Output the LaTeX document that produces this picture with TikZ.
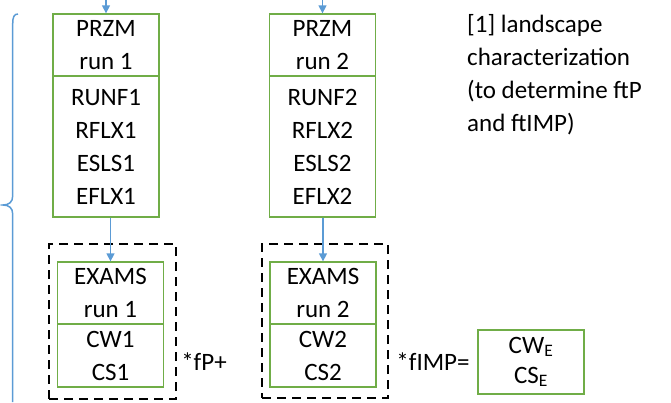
\documentclass[tikz,border=0pt]{standalone}
\usepackage{fontspec}
\setmainfont{Carlito}
\usetikzlibrary{arrows.meta}
\definecolor{boxgreen}{RGB}{112,173,71}
\definecolor{linkblue}{RGB}{91,155,213}

\begin{document}
\begin{tikzpicture}[x=1pt,y=-1pt,
                    every node/.style={font=\fontsize{25}{33}\selectfont, inner sep=0pt, align=center},
                    part/.style={draw=boxgreen, line width=1.3pt, minimum width=106pt},
                    wrap/.style={draw=black, line width=2.8pt, dash pattern=on 9pt off 6pt},
                    link/.style={draw=linkblue, line width=1.3pt, -{Triangle[length=8pt,width=8pt]}},
                    brace/.style={draw=linkblue, line width=1.5pt}]
                    \useasboundingbox (0,0) rectangle (671,402);
                    % dashed frames round the EXAMS runs
                    \node[wrap, minimum width=127pt, minimum height=155pt] (w1) at (112.5,321.5) {};
                    \node[wrap, minimum width=126pt, minimum height=154pt] (w2) at (325,321) {};
                    % PRZM runs
                    \node[part, minimum height=62pt] (p1) at (106,45) {PRZM\\run 1};
                    \node[part, minimum height=141pt] (o1) at (106,146.5) {RUNF1\\RFLX1\\ESLS1\\EFLX1};
                    \node[part, minimum height=62pt] (p2) at (322.5,45) {PRZM\\run 2};
                    \node[part, minimum height=141pt] (o2) at (322.5,146.5) {RUNF2\\RFLX2\\ESLS2\\EFLX2};
                    % EXAMS runs
                    \node[part, minimum height=62pt] (e1) at (110.5,293) {EXAMS\\run 1};
                    \node[part, minimum height=63pt] (c1) at (110.5,355.5) {CW1\\CS1};
                    \node[part, minimum height=62pt] (e2) at (323,293) {EXAMS\\run 2};
                    \node[part, minimum height=63pt] (c2) at (323,355.5) {CW2\\CS2};
                    % combination
                    \node (fp) at (204,362) {*fP+};
                    \node (fimp) at (433,362) {*fIMP=};
                    \node[part, minimum height=64pt, font=\fontsize{25}{30}\selectfont] (ce) at (531,362) {CW\textsubscript{E}\\CS\textsubscript{E}};
                    \node[anchor=north west, align=left] (note) at (467,14) {[1] landscape\\characterization\\(to determine ftP\\and ftIMP)};
                    % arrows
                    \coordinate (in1) at (106,0);
                    \coordinate (in2) at (322.5,0);
                    \draw[link] (in1) -- (p1);
                    \draw[link] (in2) -- (p2);
                    \draw[link] (e1.north |- o1.south) -- (e1);
                    \draw[link] (e2.north |- o2.south) -- (e2);
                    % brace
                    \draw[brace] (18,14) .. controls (14,14) and (12.7,17) .. (12.7,24) -- (12.7,196)
                                 .. controls (12.7,202) and (9,205) .. (3,205)
                                 .. controls (9,205) and (12.7,208) .. (12.7,214) -- (12.7,402);
                \end{tikzpicture}
\end{document}
